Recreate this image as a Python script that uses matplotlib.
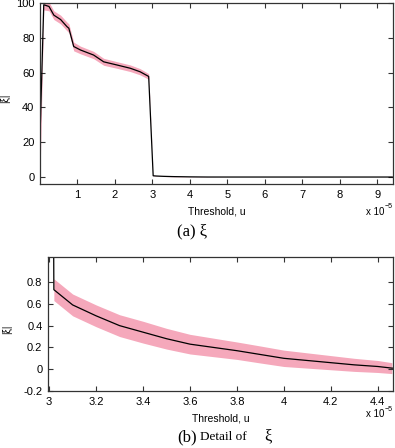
"""threshold sweep of |xi|: full range (a) and detail after the drop (b)."""
import numpy as np
import matplotlib
matplotlib.use("Agg")
import matplotlib.pyplot as plt
from matplotlib.ticker import FormatStrFormatter

W, H = 395, 448
SANS = "Liberation Sans"
SERIF = "Liberation Serif"
BAND = "#f5a8bb"
FRAME = "#333333"

# thresholds in units of 1e-5
# (a) rising edge and plateau before the drop
U_A = [0.0, 0.10, 0.24, 0.37, 0.55, 0.72, 0.77, 0.90, 1.08, 1.43, 1.70,
       2.05, 2.41, 2.67, 2.90]
XI_A = [23.0, 99.0, 98.0, 93.0, 90.5, 86.4, 85.5, 75.0, 73.0, 70.1, 66.2,
        64.4, 62.5, 60.5, 57.8]
LO_A = [0.0, 96.0, 95.5, 90.5, 88.0, 84.0, 83.0, 72.5, 70.8, 68.0, 64.2,
        62.5, 60.6, 58.7, 56.2]
HI_A = [26.0, 102.0, 100.5, 95.5, 93.0, 89.0, 88.0, 77.5, 75.2, 72.2, 68.2,
        66.3, 64.4, 62.3, 59.4]

# (b) detail after the drop
U_B = [3.02, 3.1, 3.2, 3.3, 3.4, 3.5, 3.6, 3.7, 3.8, 3.9, 4.0, 4.1, 4.2,
       4.3, 4.4, 4.46]
XI_B = [0.73, 0.59, 0.49, 0.40, 0.34, 0.28, 0.23, 0.20, 0.17, 0.135, 0.10,
        0.08, 0.06, 0.04, 0.025, 0.01]
HW_B = [0.10, 0.10, 0.10, 0.10, 0.10, 0.095, 0.09, 0.085, 0.08, 0.078,
        0.075, 0.07, 0.065, 0.06, 0.055, 0.05]

# tail out to the end of the sweep
U_C = [5.0, 6.0, 7.0, 8.0, 9.0, 9.4]
XI_C = [0.004, 0.003, 0.002, 0.002, 0.001, 0.001]

XT_A = [1, 2, 3, 4, 5, 6, 7, 8, 9]
YT_A = [0, 20, 40, 60, 80, 100]
XT_B = [3.0, 3.2, 3.4, 3.6, 3.8, 4.0, 4.2, 4.4]
YT_B = [-0.2, 0.0, 0.2, 0.4, 0.6, 0.8]


def px_rect(left, top, right, bottom):
    # pixel box -> figure fraction [l, b, w, h]
    return [left / W, 1 - bottom / H, (right - left) / W, (bottom - top) / H]


def style_axes(ax):
    for sp in ax.spines.values():
        sp.set_color(FRAME)
        sp.set_linewidth(0.9)
    ax.tick_params(direction="in", top=True, right=True, length=3.5,
                   width=0.8, color=FRAME, labelsize=8, pad=4)
    for lab in ax.get_xticklabels() + ax.get_yticklabels():
        lab.set_fontfamily(SANS)


u_b = np.array(U_B)
xi_b = np.array(XI_B)
hw_b = np.array(HW_B)

u_all = np.concatenate([U_A, U_B, U_C])
xi_all = np.concatenate([XI_A, XI_B, XI_C])
lo_all = np.concatenate([LO_A, xi_b - hw_b, XI_C])
hi_all = np.concatenate([HI_A, xi_b + hw_b, XI_C])

fig = plt.figure(figsize=(W / 100, H / 100), dpi=100)

# panel (a)
ax1 = fig.add_axes(px_rect(40, 3, 393, 184))
ax1.fill_between(u_all, lo_all, hi_all, color=BAND, lw=0)
ax1.plot(u_all, xi_all, color="black", lw=0.9)
ax1.set_xlim(0, 9.42)
ax1.set_ylim(-4, 100)
ax1.set_xticks(XT_A)
ax1.set_yticks(YT_A)
style_axes(ax1)
ax1.set_xlabel("Threshold, u", fontsize=7.5, family=SANS, labelpad=5)
ax1.set_ylabel("|ξ|", fontsize=7, family=SANS)
ax1.yaxis.set_label_coords(-0.085, 0.475)

# panel (b)
ax2 = fig.add_axes(px_rect(48, 257, 393, 391))
ax2.fill_between(u_b, xi_b - hw_b, xi_b + hw_b, color=BAND, lw=0)
ax2.plot(u_all, xi_all, color="black", lw=0.9)
ax2.set_xlim(2.995, 4.465)
ax2.set_ylim(-0.2, 1.03)
ax2.set_xticks(XT_B)
ax2.set_yticks(YT_B)
ax2.xaxis.set_major_formatter(FormatStrFormatter("%g"))
ax2.yaxis.set_major_formatter(FormatStrFormatter("%g"))
style_axes(ax2)
ax2.set_xlabel("Threshold, u", fontsize=7.5, family=SANS, labelpad=5)
ax2.set_ylabel("|ξ|", fontsize=7, family=SANS)
ax2.yaxis.set_label_coords(-0.105, 0.46)

# matlab-style exponent labels
for ypx in (212, 414):
    fig.text(366 / W, 1 - ypx / H, "x 10", fontsize=7, family=SANS,
             ha="left", va="center")
    fig.text(385 / W, 1 - (ypx - 5) / H, "−5", fontsize=5, family=SANS,
             ha="left", va="center")

# captions
fig.text(177 / W, 1 - 231 / H, "(a) ξ", fontsize=12, family=SERIF,
         ha="left", va="center")
fig.text(177 / W, 1 - 437 / H, "(b)", fontsize=12, family=SERIF,
         ha="left", va="center")
fig.text(200 / W, 1 - 437 / H, "Detail of", fontsize=9.5, family=SERIF,
         ha="left", va="center")
fig.text(264 / W, 1 - 436 / H, "ξ", fontsize=12, family=SERIF,
         ha="left", va="center")

fig.savefig("out.png", dpi=100)
